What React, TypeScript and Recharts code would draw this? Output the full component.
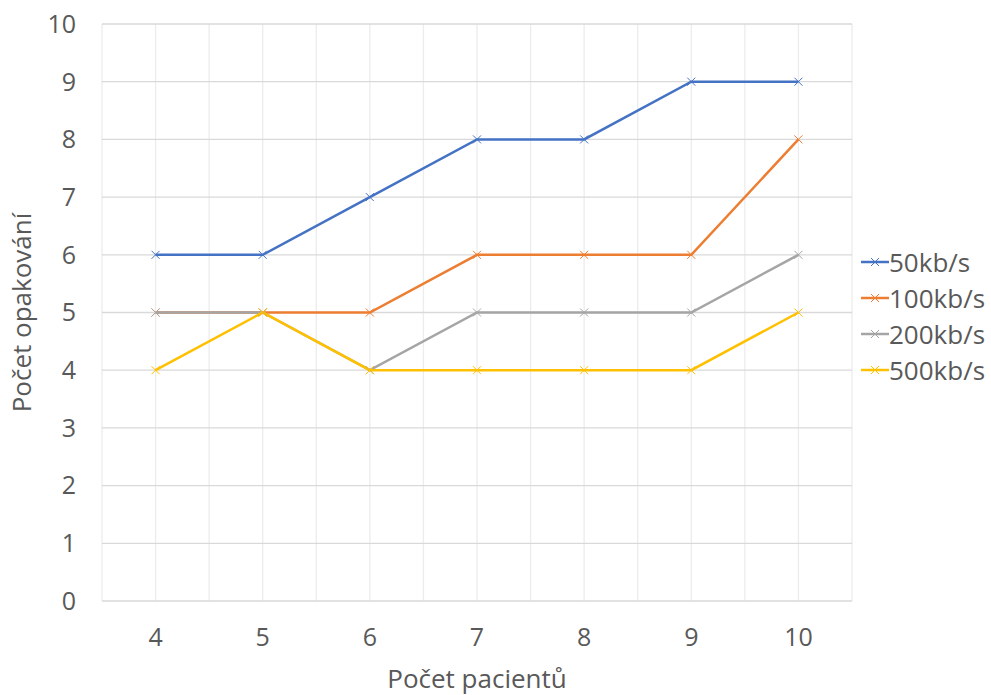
import React from 'react';
import { LineChart, Line, XAxis, YAxis, CartesianGrid, Legend } from 'recharts';

const patients = [4, 5, 6, 7, 8, 9, 10];
const s50 = [6, 6, 7, 8, 8, 9, 9];
const s100 = [5, 5, 5, 6, 6, 6, 8];
const s200 = [5, 5, 4, 5, 5, 5, 6];
const s500 = [4, 5, 4, 4, 4, 4, 5];
const yTicks = [0, 1, 2, 3, 4, 5, 6, 7, 8, 9, 10];
const gridTicks = [3.5, 4, 4.5, 5, 5.5, 6, 6.5, 7, 7.5, 8, 8.5, 9, 9.5, 10, 10.5];

const seriesDefs = [
  { key: 's50', name: '50kb/s', color: '#4472C4' },
  { key: 's100', name: '100kb/s', color: '#ED7D31' },
  { key: 's200', name: '200kb/s', color: '#A5A5A5' },
  { key: 's500', name: '500kb/s', color: '#FFC000' },
];

const data = patients.map((p, i) => ({ p, s50: s50[i], s100: s100[i], s200: s200[i], s500: s500[i] }));

const FONT = '"Open Sans", sans-serif';
const TEXT = '#595959';
const FS_TICK = 25;
const FS_TITLE = 26;

const XDot = (color: string) => (props: any) => {
  const { cx, cy } = props;
  if (cx == null || cy == null) return null;
  const r = 4;
  return (
    <path
      key={`${cx}-${cy}`}
      d={`M${cx - r},${cy - r}L${cx + r},${cy + r}M${cx - r},${cy + r}L${cx + r},${cy - r}`}
      stroke={color}
      strokeWidth={1}
      fill="none"
    />
  );
};

const LegendContent = () => (
  <div style={{ fontFamily: FONT, fontSize: FS_TITLE, color: TEXT }}>
    {seriesDefs.map((s) => (
      <div key={s.key} style={{ display: 'flex', alignItems: 'center', height: 36, whiteSpace: 'nowrap' }}>
        <svg width={28} height={14} style={{ marginRight: 0, flexShrink: 0 }}>
          <line x1={0} y1={7} x2={28} y2={7} stroke={s.color} strokeWidth={2.5} />
          <path d="M10,3L18,11M10,11L18,3" stroke={s.color} strokeWidth={1} />
        </svg>
        <span>{s.name}</span>
      </div>
    ))}
  </div>
);

export default function App() {
  return (
    <div style={{ position: 'absolute', left: 0, top: 0, background: '#fff' }}>
      <LineChart width={991} height={695} data={data} margin={{ top: 24, right: 9, bottom: 0, left: 0 }}>
        <CartesianGrid horizontal={false} xAxisId="grid" stroke="#ececec" strokeWidth={1.3} />
        <CartesianGrid vertical={false} stroke="#d9d9d9" strokeWidth={1.3} />
        <XAxis
          xAxisId="grid"
          dataKey="p"
          type="number"
          domain={[3.5, 10.5]}
          ticks={gridTicks}
          hide
        />
        <XAxis
          dataKey="p"
          type="number"
          domain={[3.5, 10.5]}
          ticks={patients}
          axisLine={false}
          tickLine={false}
          tickSize={0}
          tickMargin={27}
          height={94}
          tick={{ fill: TEXT, fontSize: FS_TICK, fontFamily: FONT }}
          label={{ value: 'Počet pacientů', position: 'insideBottom', offset: 7, fill: TEXT, fontSize: FS_TITLE, fontFamily: FONT }}
        />
        <YAxis
          domain={[0, 10]}
          ticks={yTicks}
          interval={0}
          axisLine={false}
          tickLine={false}
          tickSize={0}
          tickMargin={26}
          width={102}
          tick={{ fill: TEXT, fontSize: FS_TICK, fontFamily: FONT }}
          label={{ value: 'Počet opakování', angle: -90, position: 'insideLeft', offset: 22, fill: TEXT, fontSize: FS_TITLE, fontFamily: FONT, style: { textAnchor: 'middle' } }}
        />
        <Legend
          layout="vertical"
          verticalAlign="middle"
          align="right"
          content={<LegendContent />}
          wrapperStyle={{ right: 0, width: 130, top: 244 }}
        />
        {seriesDefs.map((s) => (
          <Line
            key={s.key}
            dataKey={s.key}
            name={s.name}
            stroke={s.color}
            strokeWidth={2.5}
            dot={XDot(s.color)}
            activeDot={false}
            isAnimationActive={false}
          />
        ))}
      </LineChart>
    </div>
  );
}
